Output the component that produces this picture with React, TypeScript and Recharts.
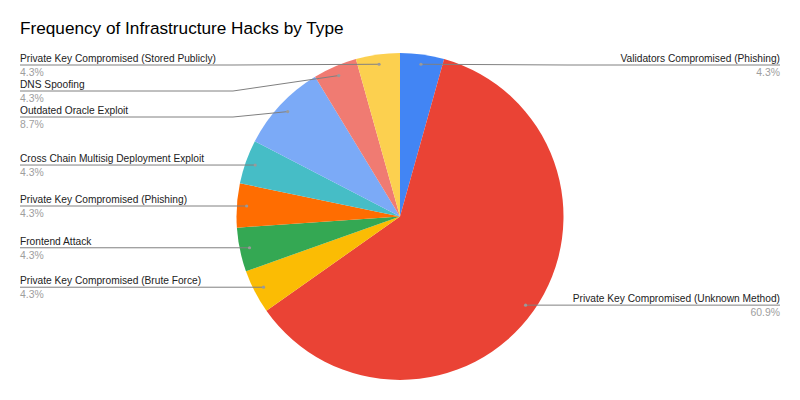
import React from 'react'
import { PieChart, Pie, Cell } from 'recharts'

const TITLE = 'Frequency of Infrastructure Hacks by Type'

const HACK_TYPES = [
  'Validators Compromised (Phishing)',
  'Private Key Compromised (Unknown Method)',
  'Private Key Compromised (Brute Force)',
  'Frontend Attack',
  'Private Key Compromised (Phishing)',
  'Cross Chain Multisig Deployment Exploit',
  'Outdated Oracle Exploit',
  'DNS Spoofing',
  'Private Key Compromised (Stored Publicly)',
]

const HACK_COUNTS = [1, 14, 1, 1, 1, 1, 2, 1, 1]

const SLICE_COLORS = [
  '#4285f4',
  '#ea4335',
  '#fbbc04',
  '#34a853',
  '#ff6d01',
  '#46bdc6',
  '#7baaf7',
  '#f07b72',
  '#fcd04f',
]

const FONT = '"Liberation Sans", Arial, sans-serif'
const CX = 400
const CY = 216.5
const RADIUS = 163.5
const DOT_FACTOR = 0.94
const RAD = Math.PI / 180
const LEFT_X = 20
const RIGHT_X = 780
const LEFT_KNEE = 233
const RIGHT_KNEE = 567
const MIN_GAP = 26
const TOP_LINE = 65

const chartData = HACK_TYPES.map((name, i) => ({ name, value: HACK_COUNTS[i] }))

// Work out where each label's underline sits so that labels on a side never overlap
function layoutLabels() {
  const total = HACK_COUNTS.reduce((a, b) => a + b, 0)
  let start = 90
  const pts = HACK_COUNTS.map((v, i) => {
    const sweep = (v / total) * 360
    const mid = start - sweep / 2
    start -= sweep
    const x = CX + RADIUS * DOT_FACTOR * Math.cos(mid * RAD)
    const y = CY - RADIUS * DOT_FACTOR * Math.sin(mid * RAD)
    return { i, x, y }
  })
  const lineY: number[] = []
  for (const left of [true, false]) {
    const side = pts.filter((p) => (p.x < CX) === left).sort((a, b) => a.y - b.y)
    let prev = -Infinity
    for (const p of side) {
      const y = Math.max(p.y, prev + MIN_GAP, TOP_LINE)
      lineY[p.i] = y
      prev = y
    }
  }
  return lineY
}

const LABEL_Y = layoutLabels()

function renderLabel(props: any) {
  const { cx, cy, midAngle, outerRadius, index, percent } = props
  const r = outerRadius * DOT_FACTOR
  const px = cx + r * Math.cos(-midAngle * RAD)
  const py = cy + r * Math.sin(-midAngle * RAD)
  const left = px < cx
  const ly = LABEL_Y[index]
  const edge = left ? LEFT_X : RIGHT_X
  let knee = left ? LEFT_KNEE : RIGHT_KNEE
  if (left ? px < knee : px > knee) knee = px
  const points = `${edge},${ly} ${knee},${ly} ${px},${py}`
  return (
    <g key={`label-${index}`}>
      <polyline points={points} fill="none" stroke="#808080" strokeWidth={1} />
      <circle cx={px} cy={py} r={1.6} fill="#9a9a9a" />
      <text
        x={edge}
        y={ly - 3}
        textAnchor={left ? 'start' : 'end'}
        fontFamily={FONT}
        fontSize={10.2}
        fill="#222222"
      >
        {HACK_TYPES[index]}
      </text>
      <text
        x={edge}
        y={ly + 11}
        textAnchor={left ? 'start' : 'end'}
        fontFamily={FONT}
        fontSize={10.4}
        fill="#9e9e9e"
      >
        {`${(percent * 100).toFixed(1)}%`}
      </text>
    </g>
  )
}

export default function App() {
  return (
    <div style={{ position: 'absolute', left: 0, top: 0, width: 800, height: 400, background: '#fff' }}>
      <div
        style={{
          position: 'absolute',
          left: 20,
          top: 18,
          fontFamily: FONT,
          fontSize: 17.2,
          color: '#000',
          whiteSpace: 'nowrap',
          lineHeight: '20px',
        }}
      >
        {TITLE}
      </div>
      <PieChart width={800} height={400} margin={{ top: 0, right: 0, bottom: 0, left: 0 }}>
        <Pie
          data={chartData}
          dataKey="value"
          nameKey="name"
          cx={CX}
          cy={CY}
          outerRadius={RADIUS}
          startAngle={90}
          endAngle={-270}
          stroke="none"
          label={renderLabel}
          labelLine={false}
          isAnimationActive={false}
        >
          {chartData.map((d, i) => (
            <Cell key={d.name} fill={SLICE_COLORS[i]} />
          ))}
        </Pie>
      </PieChart>
    </div>
  )
}
